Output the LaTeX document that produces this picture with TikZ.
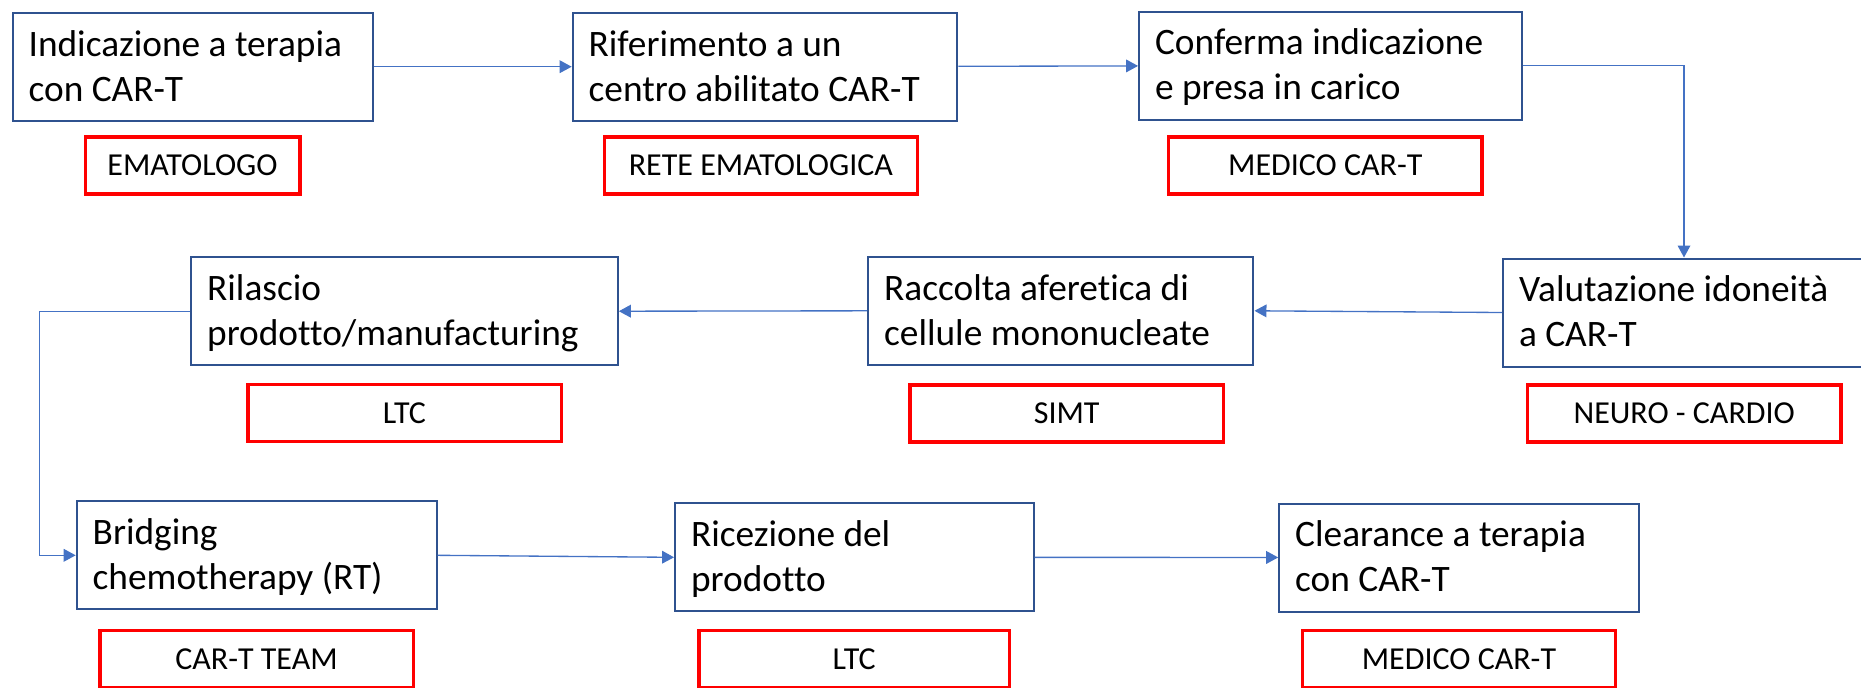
\documentclass[tikz,border=0pt]{standalone}
\usepackage{fontspec}
\setmainfont{Carlito}[Ligatures=NoCommon]
\usepackage{tikz}
\usetikzlibrary{arrows.meta}

\definecolor{boxblue}{HTML}{2F528F}
\definecolor{lineblue}{HTML}{4472C4}
\definecolor{rolered}{HTML}{FF0000}

\begin{document}
\begin{tikzpicture}[x=.75pt, y=-.75pt,
        stage/.style={draw=boxblue, line width=1.5pt, text width=#1, inner xsep=12pt, minimum height=81pt, align=flush left, text height=17.7pt, text depth=33.75pt, font=\fontsize{28}{33.75}\selectfont, execute at begin node={\spaceskip=0pt\xspaceskip=0pt}},
        role/.style={draw=rolered, line width=2.5pt, minimum width=#1, minimum height=42.75pt, text height=15.2pt, text depth=0pt, font=\fontsize{24}{28}\selectfont},
        flow/.style={lineblue, line width=1pt, -{Triangle[length=9pt, width=9.5pt]}}]
            \useasboundingbox (0,0) rectangle (1861,687);

            \node[stage=246pt] (indic) at (192.6, 66.7) {Indicazione a terapia\\con CAR-T};
            \node[stage=264.5pt] (rifer) at (765, 66.7) {Riferimento a un\\centro abilitato CAR-T};
            \node[stage=263pt] (confer) at (1330.4, 65.5) {Conferma indicazione\\e presa in carico};
            \node[stage=247.5pt] (valut) at (1684, 312.5) {Valutazione idoneità\\a CAR-T};
            \node[stage=265pt] (raccol) at (1060.8, 310.8) {Raccolta aferetica di\\cellule mononucleate};
            \node[stage=296pt] (rilasc) at (404.5, 311.2) {Rilascio\\prodotto/manufacturing};
            \node[stage=246pt] (bridge) at (256.7, 555.3) {Bridging\\chemotherapy (RT)};
            \node[stage=245pt] (ricez) at (854.4, 557.3) {Ricezione del\\prodotto};
            \node[stage=246pt] (clear) at (1459.2, 557.5) {Clearance a terapia\\con CAR-T};

            \node[role=161pt] (r-indic) at (192.5, 165.5) {EMATOLOGO};
            \node[role=235pt] (r-rifer) at (760.9, 165.5) {RETE EMATOLOGICA};
            \node[role=235pt] (r-confer) at (1325.3, 165.5) {MEDICO CAR-T};
            \node[role=235pt] (r-valut) at (1684.2, 413.4) {NEURO - CARDIO};
            \node[role=235pt] (r-raccol) at (1066.7, 413.4) {SIMT};
            \node[role=235pt] (r-rilasc) at (404.5, 413) {LTC};
            \node[role=235pt] (r-bridge) at (256.5, 659) {CAR-T TEAM};
            \node[role=233pt] (r-ricez) at (854.2, 659) {LTC};
            \node[role=235pt] (r-clear) at (1459, 659) {MEDICO CAR-T};

            \coordinate (turn) at (39.3, 311.2);

            \draw[flow] (indic) -- (rifer);
            \draw[flow] (rifer) -- (confer);
            \draw[flow] (confer.east) -| (valut.north);
            \draw[flow] (valut.west) -- (raccol.east);
            \draw[flow] (raccol.west) -- (rilasc.east);
            \draw[flow] (rilasc.west) -- (turn) |- (bridge.west);
            \draw[flow] (bridge.east) -- (ricez.west);
            \draw[flow] (ricez) -- (clear);
        \end{tikzpicture}
\end{document}
